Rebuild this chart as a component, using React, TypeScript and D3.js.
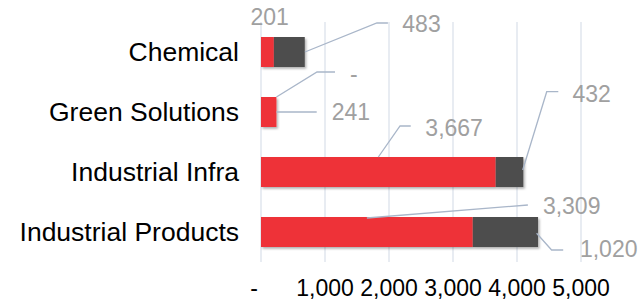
import * as d3 from 'd3';

const categories = ['Chemical', 'Green Solutions', 'Industrial Infra', 'Industrial Products'];
const redValues = [201, 241, 3667, 3309];
const darkValues = [483, 0, 432, 1020];
const xTicks = [0, 1000, 2000, 3000, 4000, 5000];

// label placement (Excel-style dragged labels), relative to segment center x / band top
const redLabelPos = [
  { dx: -17, dy: -12, leader: [] as number[][] },
  { dx: 63, dy: 23, leader: [[7.7, 15], [48, 15]] },
  { dx: 47, dy: -21, leader: [[0, 0], [21.7, -31], [32.4, -31]] },
  { dx: 176, dy: -3, leader: [[0, 1], [161, -12]] },
];
const darkLabelPos = [
  { dx: 113, dy: -5, leader: [[15.6, 15], [87.6, -14], [98.6, -14]] },
  { dx: 73.6, dy: -15, leader: [[0, 0], [40.6, -25], [58.6, -25]] },
  { dx: 63, dy: -55.3, leader: [[13.2, 13], [37.2, -65.3], [48.8, -65.3]] },
  { dx: 74.5, dy: 39.7, leader: [[31.2, 16.3], [46.2, 33], [57.8, 33]] },
];

const W = 639;
const H = 307;
const RED = '#EE3339';
const DARK = '#4D4D4D';
const GRID = '#D9DFEA';
const LEADER = '#A9B6C9';
const LABEL = '#A0A0A0';
const FONT = 'Arial, "Liberation Sans", sans-serif';

const fmt = (v: number) => (v === 0 ? '-' : d3.format(',')(v));

export default function App() {
  const x = d3.scaleLinear().domain([0, 5000]).range([261, 581]);
  const y = d3.scaleBand().domain(categories).range([22, 262]).paddingInner(0.5).paddingOuter(0.25);
  const line = d3.line();

  const segs = categories.map((c, i) => {
    const x0 = x(0);
    const x1 = x(redValues[i]);
    const x2 = x(redValues[i] + darkValues[i]);
    return { c, i, x0, x1, x2, top: y(c) as number };
  });

  return (
    <svg width={W} height={H} style={{ position: 'absolute', left: 0, top: 0, background: '#fff' }} fontFamily={FONT}>
      <defs>
        <filter id="sh" x="-10%" y="-20%" width="130%" height="160%">
          <feDropShadow dx="1.5" dy="1.8" stdDeviation="1.2" floodColor="#000" floodOpacity="0.3" />
        </filter>
      </defs>

      {/* gridlines */}
      {xTicks.map((t) => (
        <line key={t} x1={x(t)} x2={x(t)} y1={22} y2={262} stroke={GRID} strokeWidth={1.2} />
      ))}

      {/* bars */}
      {segs.map((s) => (
        <g key={s.c} filter="url(#sh)">
          <rect x={s.x0} y={s.top} width={s.x1 - s.x0} height={y.bandwidth()} fill={RED} />
          {darkValues[s.i] > 0 && (
            <rect x={s.x1} y={s.top} width={s.x2 - s.x1} height={y.bandwidth()} fill={DARK} />
          )}
        </g>
      ))}

      {/* category labels */}
      {categories.map((c) => (
        <text key={c} x={239} y={(y(c) as number) + y.bandwidth() / 2 + 8.5} textAnchor="end" fontSize={26.5} fill="#000">
          {c}
        </text>
      ))}

      {/* axis labels */}
      {xTicks.map((t) => (
        <text key={t} x={t === 0 ? x(t) - 7 : x(t)} y={296} textAnchor="middle" fontSize={23} fill="#000">
          {fmt(t)}
        </text>
      ))}

      {/* data labels + leader lines */}
      {segs.map((s) => {
        const rcx = (s.x0 + s.x1) / 2;
        const dcx = (s.x1 + s.x2) / 2;
        const r = redLabelPos[s.i];
        const d = darkLabelPos[s.i];
        return (
          <g key={'l' + s.c}>
            {r.leader.length > 0 && (
              <path
                d={line(r.leader.map((p) => [rcx + p[0], s.top + p[1]] as [number, number])) || ''}
                fill="none"
                stroke={LEADER}
                strokeWidth={1.3}
              />
            )}
            <text x={rcx + r.dx} y={s.top + r.dy} fontSize={23} fill={LABEL}>
              {fmt(redValues[s.i])}
            </text>
            <path
              d={line(d.leader.map((p) => [dcx + p[0], s.top + p[1]] as [number, number])) || ''}
              fill="none"
              stroke={LEADER}
              strokeWidth={1.3}
            />
            <text x={dcx + d.dx} y={s.top + d.dy} fontSize={23} fill={LABEL}>
              {fmt(darkValues[s.i])}
            </text>
          </g>
        );
      })}
    </svg>
  );
}
